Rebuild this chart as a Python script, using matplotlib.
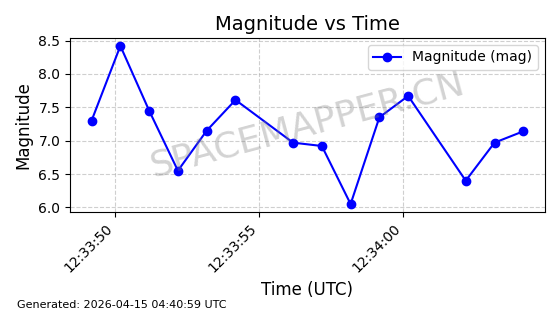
import matplotlib
matplotlib.use("Agg")
import matplotlib.pyplot as plt
import matplotlib.dates as mdates
from datetime import datetime, timedelta

base = datetime(2026, 4, 15, 12, 33, 49, 170000)
offsets_s = [0, 1, 2, 3, 4, 5, 7, 8, 9, 10, 11, 13, 14, 15]
magnitudes = [7.30, 8.42, 7.45, 6.55, 7.15, 7.61, 6.97, 6.92, 6.05, 7.35, 7.67, 6.40, 6.97, 7.14]
times = [base + timedelta(seconds=s) for s in offsets_s]

fig = plt.figure(figsize=(5.6, 3.14), dpi=100)
ax = fig.add_axes([0.125, 0.325, 0.848, 0.554])
ax.plot(times, magnitudes, color="blue", marker="o", markersize=6, linewidth=1.5, label="Magnitude (mag)")
ax.set_title("Magnitude vs Time", fontsize=14)
ax.set_xlabel("Time (UTC)", fontsize=12)
ax.set_ylabel("Magnitude", fontsize=12)
ax.grid(True, linestyle="--", alpha=0.6)
ax.legend(loc="upper right")
ax.xaxis.set_major_locator(mdates.SecondLocator(bysecond=range(0, 60, 5)))
ax.xaxis.set_major_formatter(mdates.DateFormatter("%H:%M:%S"))
plt.setp(ax.get_xticklabels(), rotation=45, ha="right")
ax.text(0.5, 0.5, "SPACEMAPPER.CN", transform=ax.transAxes, fontsize=26,
        color="gray", alpha=0.35, rotation=15, ha="center", va="center")
fig.text(0.03, 0.02, "Generated: 2026-04-15 04:40:59 UTC", fontsize=8)
fig.savefig("out.png", dpi=100)
